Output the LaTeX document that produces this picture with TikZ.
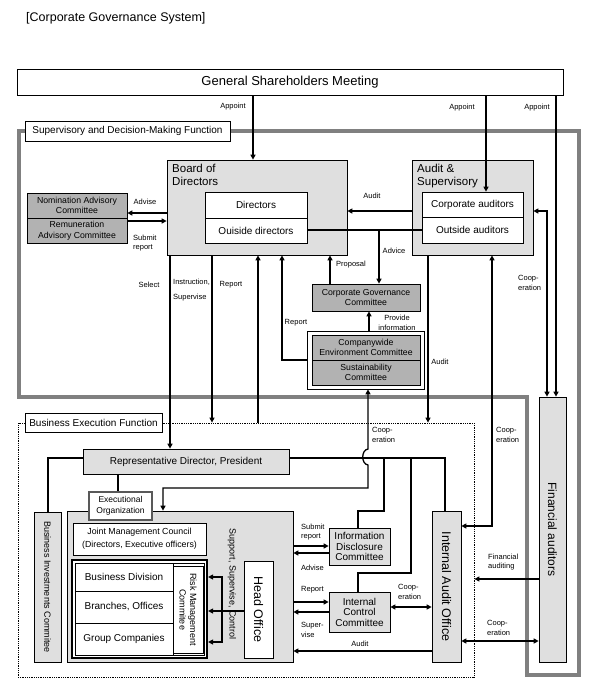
\documentclass[tikz,border=0pt]{standalone}
\usepackage{fontspec}
\setmainfont{Liberation Sans}
\usetikzlibrary{arrows.meta}
\newcommand{\fsz}[2]{\fontsize{#1}{#2}\selectfont}
\tikzset{
  box/.style={draw, inner sep=0pt, align=center, line width=0.7pt},
  lightbox/.style={box, fill=gray!25},
  darkbox/.style={box, fill=gray!60},
  whitebox/.style={box, fill=white},
  vtext/.style={rotate=-90, inner sep=0pt, align=center},
  lbl/.style={inner sep=0pt, align=left, font=\fsz{7.5}{9.5}},
  arr/.style={line width=1.3pt, -{Triangle[length=5pt,width=5pt]}},
  darr/.style={line width=1.3pt, {Triangle[length=5pt,width=5pt]}-{Triangle[length=5pt,width=5pt]}},
  link/.style={line width=2pt},
}
\begin{document}
\begin{tikzpicture}[x=1pt,y=-1pt]
\useasboundingbox (0,0) rectangle (597,688);
\node[anchor=base west, inner sep=0pt, font=\fsz{12.5}{14}] (title) at (26,21) {[Corporate Governance System]};
% frames
\draw[gray, line width=4pt] (19,131) -- (579,131) -- (579,675) -- (527,675) -- (527,397) -- (19,397) -- cycle;
\node[draw, densely dotted, line width=0.8pt, minimum width=456pt, minimum height=254pt] (bef) at (246,550) {};
\node[whitebox, line width=1pt, minimum width=205pt, minimum height=20pt, font=\fsz{10}{12}] (suplab) at (127.5,131) {Supervisory and Decision-Making Function};
\node[whitebox, line width=1pt, minimum width=137pt, minimum height=19pt, font=\fsz{10}{12}] (beflab) at (93.5,422.5) {Business Execution Function};
\node[whitebox, minimum width=546pt, minimum height=26pt, font=\fsz{13}{15}] (gsm) at (290,82) {General Shareholders Meeting};
% supervisory side
\node[lightbox, minimum width=180pt, minimum height=95pt] (bod) at (257,207.5) {};
\node[anchor=north west, inner sep=0pt, align=left, font=\fsz{11.5}{12.5}] (bodt) at (172,164) {Board of\\Directors};
\node[whitebox, minimum width=102pt, minimum height=26pt, font=\fsz{10}{12}] (dir) at (256,205) {Directors};
\node[whitebox, minimum width=102pt, minimum height=25pt, font=\fsz{10}{12}] (odir) at (256,230.5) {Ouiside directors};
\node[lightbox, minimum width=121pt, minimum height=95pt] (asb) at (472.5,207.5) {};
\node[anchor=north west, inner sep=0pt, align=left, font=\fsz{11.5}{12.5}] (asbt) at (417,164) {Audit \&\\Supervisory};
\node[whitebox, minimum width=101pt, minimum height=25pt, font=\fsz{10}{12}] (caud) at (472.5,204.5) {Corporate auditors};
\node[whitebox, minimum width=101pt, minimum height=26pt, font=\fsz{10}{12}] (oaud) at (472.5,230) {Outside auditors};
\node[darkbox, minimum width=100pt, minimum height=25pt, font=\fsz{8.7}{10.5}] (nom) at (77,205.5) {Nomination Advisory\\Committee};
\node[darkbox, minimum width=100pt, minimum height=25pt, font=\fsz{8.7}{10.5}] (rem) at (77,230.5) {Remuneration\\Advisory Committee};
\node[darkbox, minimum width=108pt, minimum height=27pt, font=\fsz{8.7}{10.5}] (cgc) at (366,297.5) {Corporate Governance\\Committee};
\node[whitebox, minimum width=117pt, minimum height=58pt] (envout) at (365.5,360) {};
\node[darkbox, minimum width=108pt, minimum height=25pt, font=\fsz{8.7}{10.5}] (env) at (366,347.5) {Companywide\\Environment Committee};
\node[darkbox, minimum width=108pt, minimum height=25pt, font=\fsz{8.7}{10.5}] (sus) at (366,372.5) {Sustainability\\Committee};
\node[lightbox, minimum width=27pt, minimum height=265pt] (fa) at (552.5,529.5) {};
\node[vtext, font=\fsz{12}{14}] (fat) at (fa) {Financial auditors};
% execution side
\node[lightbox, minimum width=206pt, minimum height=25pt, font=\fsz{10}{12}] (rdp) at (186,461.5) {Representative Director, President};
\node[lightbox, minimum width=27pt, minimum height=150pt] (bic) at (47.5,587) {};
\node[vtext, font=\fsz{9}{11}] (bict) at (bic) {Business Investments Commitee};
\node[lightbox, minimum width=226pt, minimum height=151pt] (exarea) at (180,586.5) {};
\node[whitebox, draw=gray!70!black, line width=1.2pt, minimum width=63pt, minimum height=28pt, font=\fsz{8.5}{10.5}] (exorg) at (120.5,506) {Executional\\Organization};
\node[whitebox, minimum width=133pt, minimum height=32pt, font=\fsz{8.8}{13}] (jmc) at (139.5,539) {Joint Management Council\\(Directors, Executive officers)};
\node[draw, fill=white, line width=2.2pt, minimum width=135pt, minimum height=98pt] (units) at (139.5,609) {};
\node[box, minimum width=129pt, minimum height=92pt] (unitsin) at (units) {};
\node[box, minimum width=98pt, minimum height=28pt, font=\fsz{10}{12}] (bdiv) at (124,577) {Business Division};
\node[box, minimum width=98pt, minimum height=32pt, font=\fsz{10}{12}] (bro) at (124,607) {Branches, Offices};
\node[box, minimum width=98pt, minimum height=32pt, font=\fsz{10}{12}] (grp) at (124,639) {Group Companies};
\node[whitebox, minimum width=30pt, minimum height=87pt] (rmc) at (188,609.5) {};
\node[vtext, font=\fsz{9}{10.5}] (rmct) at (rmc) {Risk Management\\Commitee};
\node[whitebox, minimum width=29pt, minimum height=97pt] (ho) at (258.5,609.5) {};
\node[vtext, font=\fsz{12.5}{14}] (hot) at (ho) {Head Office};
\node[vtext, font=\fsz{9}{11}] (ssc) at (232,584) {Support, Supervise, Control};
\node[lightbox, minimum width=61pt, minimum height=37pt, font=\fsz{10}{10.5}] (idc) at (359.5,546.5) {Information\\Disclosure\\Committee};
\node[lightbox, minimum width=61pt, minimum height=40pt, font=\fsz{10}{10.5}] (icc) at (359.5,612) {Internal\\Control\\Committee};
\node[lightbox, minimum width=29pt, minimum height=151pt] (iao) at (446.5,586.5) {};
\node[vtext, font=\fsz{12.5}{14}] (iaot) at (iao) {Internal Audit Office};
% appoint
\draw[arr] (gsm.south -| 253,0) -- (bod.north -| 253,0);
\draw[arr] (gsm.south -| 486,0) -- (caud.north -| 486,0);
\draw[arr] (gsm.south -| 556,0) -- (fa.north -| 556,0);
\node[lbl] (ap1) at (233,107) {Appoint};
\node[lbl] (ap2) at (462,108) {Appoint};
\node[lbl] (ap3) at (537,108) {Appoint};
% board connections
\draw[arr] (bod.west |- 0,213) -- (nom.east |- 0,213);
\draw[arr] (rem.east |- 0,221) -- (bod.west |- 0,221);
\node[lbl] (adv1) at (145,202) {Advise};
\node[lbl, anchor=west] (sub1) at (133,243) {Submit\\report};
\draw[arr] (asb.west |- 0,211) -- (bod.east |- 0,211);
\node[lbl] (aud1) at (372,196) {Audit};
\draw[link] (odir.east |- 0,230) -- (oaud.west |- 0,230);
\coordinate (advj) at (379,230);
\draw[arr] (advj) -- (advj |- cgc.north);
\node[lbl] (advc) at (394,251) {Advice};
\draw[arr] (cgc.north -| 330,0) -- (bod.south -| 330,0);
\node[lbl, anchor=west] (prop) at (336,265) {Proposal};
\draw[arr] (envout.north -| 369,0) -- (cgc.south -| 369,0);
\node[lbl, align=center] (prov) at (397,323) {Provide\\information};
\draw[arr] (envout.west) -| (bod.south -| 282,0);
\node[lbl] (rep2) at (296,323) {Report};
\draw[arr] (bod.south -| 170,0) -- (rdp.north -| 170,0);
\node[lbl] (sel) at (149,285) {Select};
\node[lbl, anchor=west] (ins) at (173,290) {Instruction,\\[5pt]Supervise};
\draw[arr] (bod.south -| 212,0) -- (bef.north -| 212,0);
\node[lbl] (rep1) at (231,285) {Report};
\draw[arr] (bef.north -| 258,0) -- (bod.south -| 258,0);
% audit side
\draw[arr] (asb.south -| 428,0) -- (bef.north -| 428,0);
\node[lbl] (aud2) at (440,362) {Audit};
\draw[darr] (asb.south -| 492,0) |- (iao.east |- 0,526);
\node[lbl, anchor=west] (coop2) at (496,435) {Coop-\\eration};
\draw[darr] (asb.east |- 0,211) -| (fa.north -| 547,0);
\node[lbl, anchor=west] (coop1) at (518,283) {Coop-\\eration};
\draw[arr] (fa.west |- 0,579) -- (bef.east |- 0,579);
\node[lbl, anchor=west] (fin) at (488,562) {Financial\\auditing};
\draw[darr] (iao.east |- 0,641) -- (fa.west |- 0,641);
\node[lbl, anchor=west] (coop5) at (487,628) {Coop-\\eration};
% cooperation with sustainability
\draw[darr] (envout.south -| 368,0) -- (368,449) .. controls (361,450) and (361,464) .. (368,465) -- (368,488) -| (exarea.north -| 163,0);
\node[lbl, anchor=west] (coop3) at (372,435) {Coop-\\eration};
% president lines
\draw[link] (rdp.east |- 0,458) -| (iao.north -| 445,0);
\coordinate (jidc) at (384,458);
\coordinate (jicc) at (411,458);
\draw[link] (jidc) -- (384,511) -| (idc.north -| 358,0);
\draw[link] (jicc) -- (411,573) -| (icc.north -| 358,0);
\draw[link] (rdp.west |- 0,458) -| (bic.north);
\draw[link] (rdp.south -| 118,0) -- (exorg.north -| 118,0);
% committees
\draw[arr] (exarea.east |- 0,546) -- (idc.west |- 0,546);
\draw[arr] (idc.west |- 0,553) -- (exarea.east |- 0,553);
\node[lbl, anchor=west] (sub2) at (301,532) {Submit\\report};
\node[lbl, anchor=west] (adv2) at (301,568) {Advise};
\draw[arr] (exarea.east |- 0,602) -- (icc.west |- 0,602);
\draw[arr] (icc.west |- 0,612) -- (exarea.east |- 0,612);
\node[lbl, anchor=west] (rep3) at (301,590) {Report};
\node[lbl, anchor=west] (sup) at (301,630) {Super-\\vise};
\draw[darr] (icc.east |- 0,607) -- (iao.west |- 0,607);
\node[lbl, anchor=west] (coop4) at (398,592) {Coop-\\eration};
\draw[arr] (iao.west |- 0,651) -- (exarea.east |- 0,651);
\node[lbl] (aud3) at (360,644) {Audit};
% head office
\coordinate (hoj) at (222,611);
\draw[arr, line width=1.6pt] (ho.west |- hoj) -- (units.east |- hoj);
\draw[arr, line width=1.6pt] (hoj) |- (units.east |- 0,577);
\draw[arr, line width=1.6pt] (hoj) |- (units.east |- 0,642);
\end{tikzpicture}
\end{document}
